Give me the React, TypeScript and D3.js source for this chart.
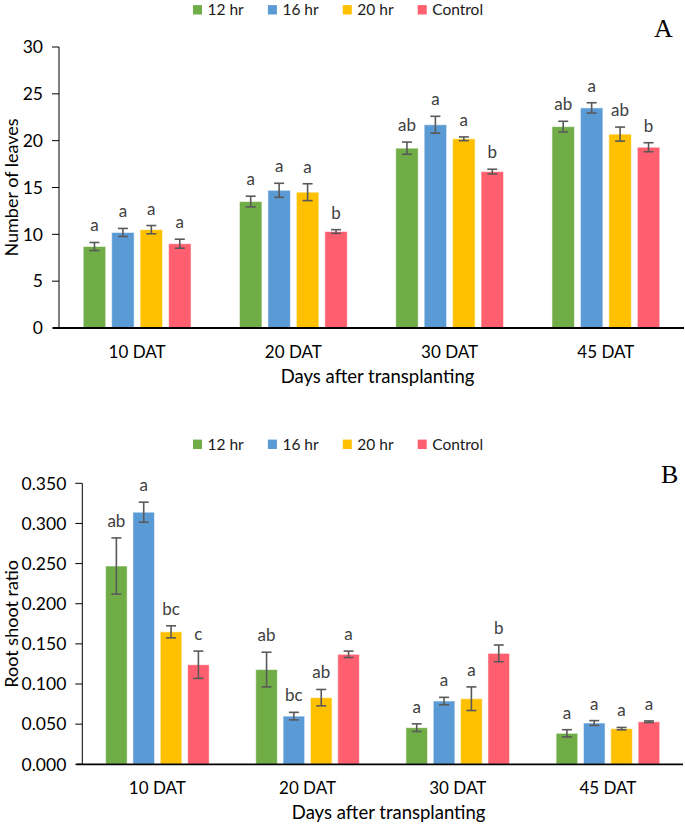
import React from "react";
import * as d3 from "d3";

const categories = ["10 DAT", "20 DAT", "30 DAT", "45 DAT"];
const seriesNames = ["12 hr", "16 hr", "20 hr", "Control"];
const seriesColors = ["#70AD47", "#5B9BD5", "#FFC000", "#FF5F6E"];

// Panel A: number of leaves
const leaves12hr = [8.7, 13.5, 19.2, 21.5];
const leaves16hr = [10.2, 14.7, 21.7, 23.5];
const leaves20hr = [10.5, 14.5, 20.2, 20.7];
const leavesControl = [9.0, 10.3, 16.7, 19.3];
const leavesErr12hr = [0.43, 0.57, 0.65, 0.57];
const leavesErr16hr = [0.43, 0.75, 0.9, 0.55];
const leavesErr20hr = [0.44, 0.9, 0.2, 0.75];
const leavesErrControl = [0.48, 0.2, 0.25, 0.48];
const leavesLet12hr = ["a", "a", "ab", "ab"];
const leavesLet16hr = ["a", "a", "a", "a"];
const leavesLet20hr = ["a", "a", "a", "ab"];
const leavesLetControl = ["a", "b", "b", "b"];
const leavesTicks = [0, 5, 10, 15, 20, 25, 30];

// Panel B: root shoot ratio
const ratio12hr = [0.247, 0.118, 0.0456, 0.0386];
const ratio16hr = [0.314, 0.06, 0.0788, 0.0514];
const ratio20hr = [0.165, 0.083, 0.0817, 0.0444];
const ratioControl = [0.124, 0.137, 0.1382, 0.053];
const ratioErr12hr = [0.035, 0.0216, 0.0048, 0.0045];
const ratioErr16hr = [0.0125, 0.0047, 0.0046, 0.003];
const ratioErr20hr = [0.0075, 0.0102, 0.0147, 0.0015];
const ratioErrControl = [0.017, 0.004, 0.0104, 0.001];
const ratioLet12hr = ["ab", "ab", "a", "a"];
const ratioLet16hr = ["a", "bc", "a", "a"];
const ratioLet20hr = ["bc", "ab", "a", "a"];
const ratioLetControl = ["c", "a", "b", "a"];
const ratioTicks = [0, 0.05, 0.1, 0.15, 0.2, 0.25, 0.3, 0.35];

const FONT = "Lato, 'Open Sans', sans-serif";

type PanelProps = {
  means: number[][];
  errs: number[][];
  letters: string[][];
  ticks: number[];
  tickFmt: (v: number) => string;
  yMax: number;
  left: number;
  right: number;
  top: number;
  bottom: number;
  yTitle: string;
  yTitleX: number;
  legendY: number;
  panelLabel: string;
  panelLabelX: number;
  panelLabelY: number;
};

function Panel(p: PanelProps) {
  const x0 = d3.scaleBand<string>().domain(categories).range([p.left, p.right]);
  const bw = x0.bandwidth();
  const x1 = d3
    .scaleBand<string>()
    .domain(seriesNames)
    .range([0.155 * bw, 0.845 * bw])
    .paddingInner(0.21);
  const y = d3.scaleLinear().domain([0, p.yMax]).range([p.bottom, p.top]);
  const midX = (p.left + p.right) / 2;

  return (
    <g>
      {/* legend */}
      {seriesNames.map((s, i) => {
        const lx = 193 + i * 74.9;
        return (
          <g key={s}>
            <rect x={lx} y={p.legendY - 4.7} width={9} height={9.4} fill={seriesColors[i]} />
            <text
              x={lx + 14.5}
              y={p.legendY + 5.4}
              fontFamily={FONT}
              fontSize={15.5}
              fill="#1a1a1a"
            >
              {s}
            </text>
          </g>
        );
      })}
      <text
        x={p.panelLabelX}
        y={p.panelLabelY}
        fontFamily="'Liberation Serif', 'DejaVu Serif', serif"
        fontSize={26}
        fill="#000"
      >
        {p.panelLabel}
      </text>

      {/* y axis */}
      <line x1={p.left} x2={p.left} y1={p.top} y2={p.bottom} stroke="#000" strokeWidth={1} />
      {p.ticks.map((t) => (
        <g key={t}>
          <line x1={p.left - 7} x2={p.left} y1={y(t)} y2={y(t)} stroke="#000" strokeWidth={1} />
          <text
            x={p.left - 16}
            y={y(t)}
            dy="0.36em"
            textAnchor="end"
            fontFamily={FONT}
            fontSize={17.5}
            fill="#000"
          >
            {p.tickFmt(t)}
          </text>
        </g>
      ))}
      <text
        transform={`translate(${p.yTitleX},${(p.top + p.bottom) / 2}) rotate(-90)`}
        textAnchor="middle"
        fontFamily={FONT}
        fontSize={18}
        fill="#000"
      >
        {p.yTitle}
      </text>

      {/* bars */}
      {categories.map((c, ci) => (
        <g key={c} transform={`translate(${x0(c)},0)`}>
          {seriesNames.map((s, si) => {
            const v = p.means[si][ci];
            const e = p.errs[si][ci];
            const bx = x1(s)!;
            const cx = bx + x1.bandwidth() / 2;
            const yTop = y(v + e);
            const yBot = y(v - e);
            return (
              <g key={s}>
                <rect
                  x={bx}
                  y={y(v)}
                  width={x1.bandwidth()}
                  height={p.bottom - y(v)}
                  fill={seriesColors[si]}
                  stroke="rgba(255,255,255,0.55)"
                  strokeWidth={1}
                />
                <g stroke="#595959" strokeWidth={1.6}>
                  <line x1={cx} x2={cx} y1={yTop} y2={yBot} />
                  <line x1={cx - 5} x2={cx + 5} y1={yTop} y2={yTop} />
                  <line x1={cx - 5} x2={cx + 5} y1={yBot} y2={yBot} />
                </g>
                <text
                  x={cx}
                  y={yTop - 11}
                  textAnchor="middle"
                  fontFamily={FONT}
                  fontSize={17}
                  fill="#404040"
                >
                  {p.letters[si][ci]}
                </text>
              </g>
            );
          })}
          <text
            x={bw / 2}
            y={p.bottom + 24}
            dy="0.36em"
            textAnchor="middle"
            fontFamily={FONT}
            fontSize={17}
            fill="#000"
          >
            {c}
          </text>
        </g>
      ))}

      {/* x axis */}
      <line x1={p.left - 6} x2={p.right} y1={p.bottom} y2={p.bottom} stroke="#000" strokeWidth={1.8} />
      <text
        x={midX + 6}
        y={p.bottom + 48}
        dy="0.36em"
        textAnchor="middle"
        fontFamily={FONT}
        fontSize={18.5}
        fill="#000"
      >
        Days after transplanting
      </text>
    </g>
  );
}

export default function App() {
  return (
    <svg
      width={685}
      height={824}
      style={{ position: "absolute", left: 0, top: 0, background: "#fff" }}
    >
      <Panel
        means={[leaves12hr, leaves16hr, leaves20hr, leavesControl]}
        errs={[leavesErr12hr, leavesErr16hr, leavesErr20hr, leavesErrControl]}
        letters={[leavesLet12hr, leavesLet16hr, leavesLet20hr, leavesLetControl]}
        ticks={leavesTicks}
        tickFmt={(v) => d3.format("d")(v)}
        yMax={30}
        left={59}
        right={684}
        top={47}
        bottom={328}
        yTitle="Number of leaves"
        yTitleX={18}
        legendY={9.8}
        panelLabel="A"
        panelLabelX={654}
        panelLabelY={37.3}
      />
      <Panel
        means={[ratio12hr, ratio16hr, ratio20hr, ratioControl]}
        errs={[ratioErr12hr, ratioErr16hr, ratioErr20hr, ratioErrControl]}
        letters={[ratioLet12hr, ratioLet16hr, ratioLet20hr, ratioLetControl]}
        ticks={ratioTicks}
        tickFmt={(v) => d3.format(".3f")(v)}
        yMax={0.35}
        left={82.3}
        right={683}
        top={483.3}
        bottom={764.3}
        yTitle="Root shoot ratio"
        yTitleX={18}
        legendY={444.3}
        panelLabel="B"
        panelLabelX={661}
        panelLabelY={483.3}
      />
    </svg>
  );
}
